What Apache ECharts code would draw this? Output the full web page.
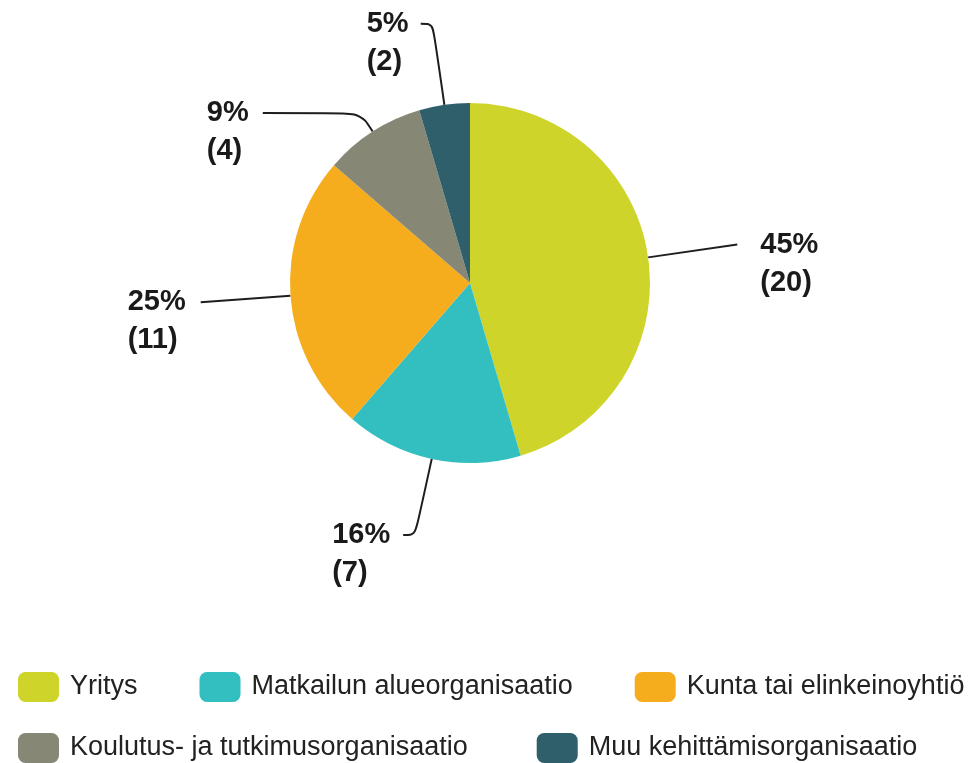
<!DOCTYPE html>
<html>
<head>
<meta charset="utf-8">
<script src="https://cdn.jsdelivr.net/npm/echarts@6/dist/echarts.min.js"></script>
<style>
html,body{margin:0;padding:0;background:#fff;}
#chart{width:975px;height:763px;}
</style>
</head>
<body>
<div id="chart"></div>
<script>
// ---- data ----
const categories = ['Yritys', 'Matkailun alueorganisaatio', 'Kunta tai elinkeinoyhtiö', 'Koulutus- ja tutkimusorganisaatio', 'Muu kehittämisorganisaatio'];
const counts = [20, 7, 11, 4, 2];

// ---- styling (not data) ----
const colors = ['#cfd42b', '#33bec0', '#f5ad1e', '#878776', '#2e5f6b'];
const lineLen = [90, 78, 90, 22, 82];
const lineLen2 = [0, 12, 0, 98, 12];
const labelGap = [23, 13, 15, 16, 14];
const tokenW = [58, 58, 58, 40, 40];

const FONT = '"Liberation Sans", Arial, sans-serif';
const total = counts.reduce((a, b) => a + b, 0);

const data = categories.map((name, i) => ({
  name: name,
  value: counts[i],
  itemStyle: { color: colors[i] },
  labelLine: { length: lineLen[i], length2: lineLen2[i] },
  label: {
    distanceToLabelLine: labelGap[i],
    rich: {
      t: {
        fontSize: 29, fontWeight: 'bold', lineHeight: 38, width: tokenW[i],
        align: 'left', color: '#1a1a1a', fontFamily: FONT
      }
    }
  }
}));

const legendText = { fontSize: 27, color: '#222', fontFamily: FONT, padding: [0, 0, 0, 6], lineHeight: 30 };

const chart = echarts.init(document.getElementById('chart'), null, { renderer: 'canvas' });
chart.setOption({
  backgroundColor: '#ffffff',
  animation: false,
  legend: [
    {
      data: categories.slice(0, 3),
      left: 18, top: 672, width: 1500, padding: 0,
      orient: 'horizontal',
      icon: 'roundRect',
      itemWidth: 41, itemHeight: 30, itemGap: 62,
      textStyle: legendText
    },
    {
      data: categories.slice(3),
      left: 18, top: 733, width: 1500, padding: 0,
      orient: 'horizontal',
      icon: 'roundRect',
      itemWidth: 41, itemHeight: 30, itemGap: 69,
      textStyle: legendText
    }
  ],
  series: [{
    type: 'pie',
    center: [470, 283],
    radius: 180,
    startAngle: 90,
    clockwise: true,
    avoidLabelOverlap: false,
    emphasis: { disabled: true },
    label: {
      show: true,
      position: 'outside',
      padding: [38, 0, 0, 0],
      formatter: function (p) {
        const pct = Math.round(p.value / total * 100);
        return '{t|' + pct + '%}\n{t|(' + p.value + ')}';
      }
    },
    labelLine: {
      show: true,
      smooth: 0.35,
      lineStyle: { color: '#1e1e1e', width: 2 }
    },
    data: data
  }]
});
</script>
</body>
</html>
